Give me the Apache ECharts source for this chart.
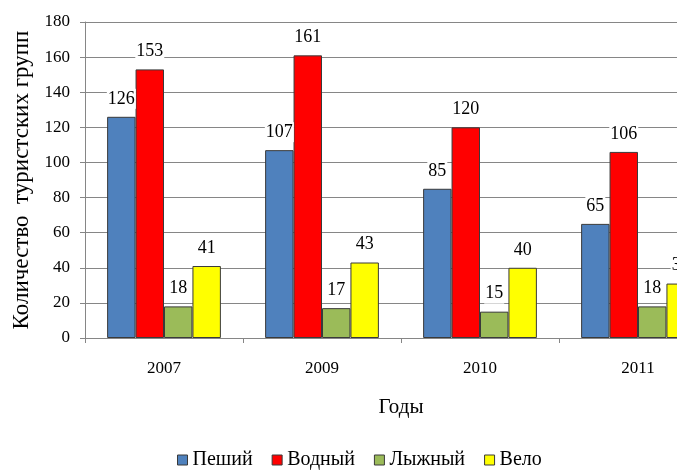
<!DOCTYPE html>
<html>
<head>
<meta charset="utf-8">
<script src="https://cdn.jsdelivr.net/npm/echarts@6/dist/echarts.min.js"></script>
<style>
html,body{margin:0;padding:0;background:#fff;overflow:hidden;}
#main{width:719px;height:473px;}
</style>
</head>
<body>
<div id="main"></div>
<script>
var years=['2007','2009','2010','2011'];
var seriesNames=['Пеший','Водный','Лыжный','Вело'];
var peshiy=[126,107,85,65];
var vodniy=[153,161,120,106];
var lyzhniy=[18,17,15,18];
var velo=[41,43,40,31];
var yTicks=[0,20,40,60,80,100,120,140,160,180];

var colors=['#4F81BD','#FF0000','#9BBB59','#FFFF00'];
var values=[peshiy,vodniy,lyzhniy,velo];
var font='"Liberation Serif","Times New Roman",serif';

var chart=echarts.init(document.getElementById('main'));
var series=[];
for(var i=0;i<seriesNames.length;i++){
	series.push({
		name:seriesNames[i],
		type:'bar',
		data:values[i],
		barGap:'0%',
		barCategoryGap:'28%',
		itemStyle:{color:colors[i],borderColor:'#3a3a3a',borderWidth:1},
		label:{
			show:true,
			position:'top',
			distance:8,
			color:'#000',
			fontFamily:font,
			fontSize:18,
			backgroundColor:'#fff',
			padding:[1,1,1,1]
		}
	});
}
var option={
	animation:false,
	backgroundColor:'#fff',
	textStyle:{fontFamily:font},
	grid:{left:85,top:22,bottom:135,right:2,containLabel:false,outerBoundsMode:'none'},
	legend:{
		left:172,
		top:445,
		itemWidth:10,
		itemHeight:10,
		itemGap:19,
		icon:'rect',
		textStyle:{fontFamily:font,fontSize:20,color:'#000'},
		itemStyle:{borderColor:'#3a3a3a',borderWidth:1},
		data:seriesNames
	},
	xAxis:{
		type:'category',
		data:years,
		name:'Годы',
		nameLocation:'middle',
		nameGap:59,
		nameTextStyle:{fontFamily:font,fontSize:21,color:'#000'},
		axisLine:{lineStyle:{color:'#868686'}},
		axisTick:{show:true,length:5,lineStyle:{color:'#868686'}},
		axisLabel:{color:'#000',fontFamily:font,fontSize:17,margin:22}
	},
	yAxis:{
		type:'value',
		min:yTicks[0],
		max:yTicks[yTicks.length-1],
		interval:20,
		name:'Количество  туристских групп',
		nameLocation:'middle',
		nameGap:51,
		nameTextStyle:{fontFamily:font,fontSize:23,color:'#000'},
		axisLine:{show:true,lineStyle:{color:'#868686'}},
		axisTick:{show:true,length:5,lineStyle:{color:'#868686'}},
		axisLabel:{color:'#000',fontFamily:font,fontSize:17,margin:15},
		splitLine:{lineStyle:{color:'#868686'}}
	},
	series:series
};
chart.setOption(option);
</script>
</body>
</html>
